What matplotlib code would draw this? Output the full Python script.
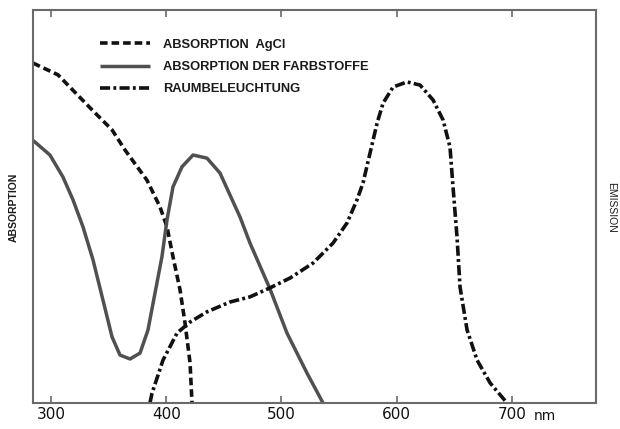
import matplotlib
matplotlib.use("Agg")
import matplotlib.pyplot as plt

# Wavelength (nm) / relative value readings
agcl_nm = [284.4, 306.1, 335.6, 353.0, 364.2, 383.3, 394.6, 400.7, 405.9, 412.0, 416.3, 420.7, 422.4]
agcl_val = [86.5, 83.5, 74.6, 69.5, 64.4, 56.7, 49.9, 44.8, 37.2, 28.8, 20.4, 10.2, 0.0]

dye_nm = [284.4, 286.1, 299.1, 310.4, 319.1, 327.8, 336.5, 345.1, 353.0, 359.9, 368.6, 377.3,
          384.2, 390.3, 396.3, 400.7, 405.9, 413.7, 423.3, 435.4, 446.7, 455.4, 464.1,
          472.7, 490.1, 504.8, 522.2, 536.1]
dye_val = [66.8, 66.4, 63.1, 57.5, 51.7, 44.8, 36.4, 26.2, 16.8, 12.2, 11.2, 12.7,
           18.6, 28.0, 37.2, 46.6, 55.0, 60.1, 63.1, 62.3, 58.5, 52.9, 47.3,
           40.7, 29.0, 17.8, 7.6, 0.0]

room_nm = [385.9, 387.7, 397.2, 409.4, 420.7, 435.4, 455.4, 472.7, 490.1, 507.5, 527.4, 544.8,
           556.9, 565.6, 570.8, 576.9, 583.0, 588.2, 596.9, 609.0, 620.3, 631.6, 640.3,
           646.3, 648.9, 652.4, 655.0, 661.1, 669.8, 681.1, 695.8]
room_val = [0.0, 2.5, 10.9, 17.8, 20.6, 23.2, 25.7, 27.0, 29.3, 31.8, 35.6, 40.7,
            45.8, 51.7, 56.0, 63.6, 71.2, 76.3, 80.4, 81.7, 80.9, 77.1, 72.0,
            65.1, 55.0, 42.2, 29.5, 18.6, 10.9, 5.1, 0.0]

xticks = [300, 400, 500, 600, 700]
xtick_labels = ["300", "400", "500", "600", "700"]
legend_labels = ["ABSORPTION  AgCl", "ABSORPTION DER FARBSTOFFE", "RAUMBELEUCHTUNG"]

fig = plt.figure(figsize=(6.2, 4.29), dpi=100)
ax = fig.add_axes([33/620, 1-403/429, (596-33)/620, (403-10)/429])

frame_col = "#6a6a6a"
l1, = ax.plot(agcl_nm, agcl_val, color="#111111", lw=2.6, linestyle=(0, (2.1, 1.1)),
              dash_capstyle="butt", solid_joinstyle="round")
l2, = ax.plot(dye_nm, dye_val, color="#505050", lw=2.5, solid_capstyle="butt",
              solid_joinstyle="round")
l3, = ax.plot(room_nm, room_val, color="#111111", lw=2.6,
              linestyle=(0, (2.8, 0.9, 0.8, 0.9)), dash_capstyle="butt")

ax.set_xlim(284.4, 773)
ax.set_ylim(0, 100)

for s in ax.spines.values():
    s.set_color(frame_col)
    s.set_linewidth(1.5)

ax.set_xticks(xticks)
ax.set_xticklabels(xtick_labels)
ax.tick_params(axis="x", direction="in", length=5, width=1.2, color=frame_col,
               top=True, bottom=True, labelsize=11, pad=3, labelcolor="#111111")
ax.set_yticks([])
ax.text(729, -4.3, "nm", fontsize=10, ha="center", va="baseline", color="#111111")

leg = ax.legend([l1, l2, l3], legend_labels, loc="upper left",
                bbox_to_anchor=(0.119, 0.927), frameon=False, handlelength=3.9,
                handletextpad=1.0, labelspacing=0.8, borderaxespad=0, borderpad=0,
                prop={"family": "Liberation Sans", "size": 9.3, "weight": "bold"})
for t in leg.get_texts():
    t.set_color("#1a1a1a")

fig.text(14/620, 1-207/429, "ABSORPTION", rotation=90, ha="center", va="center",
         fontsize=7.5, family="Liberation Sans", weight="bold", color="#1a1a1a")
fig.text(611/620, 1-207/429, "EMISSION", rotation=270, ha="center", va="center",
         fontsize=7.5, family="Liberation Sans", color="#1a1a1a")

fig.savefig("out.png", dpi=100, facecolor="white")
